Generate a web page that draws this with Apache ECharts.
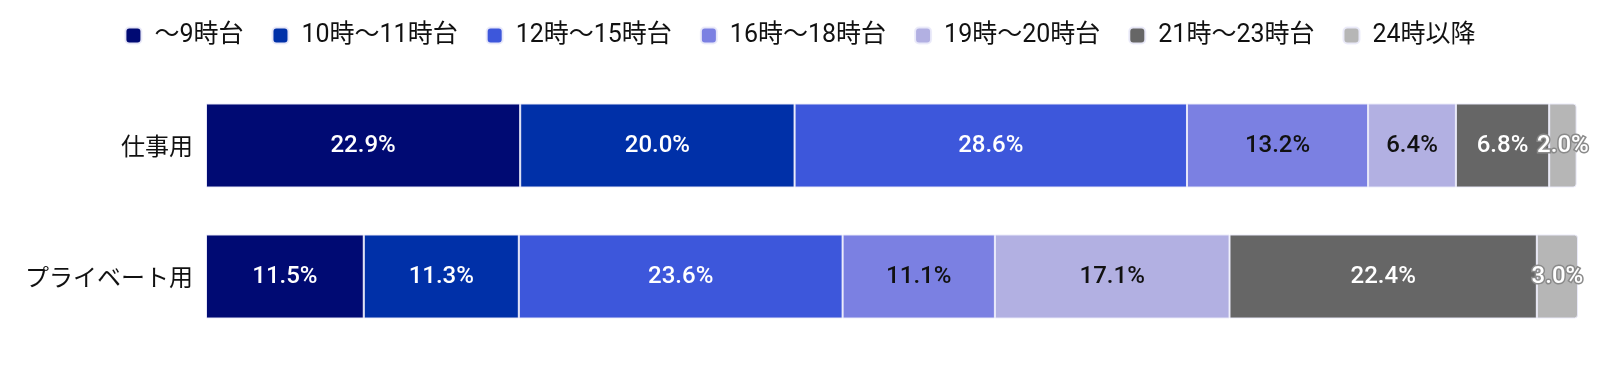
<!DOCTYPE html>
<html><head><meta charset="utf-8">
<script src="https://cdn.jsdelivr.net/npm/echarts@6/dist/echarts.min.js"></script>
<style>html,body{margin:0;padding:0;background:#fff}#c{width:1600px;height:383px}</style>
</head><body><div id="c"></div>
<script>
const categories = ['仕事用', 'プライベート用'];
const seriesNames = ['～9時台', '10時～11時台', '12時～15時台', '16時～18時台', '19時～20時台', '21時～23時台', '24時以降'];
const work = [22.9, 20.0, 28.6, 13.2, 6.4, 6.8, 2.0];
const priv = [11.5, 11.3, 23.6, 11.1, 17.1, 22.4, 3.0];
const colors = ['#000a73', '#0030a8', '#3d57db', '#7b80e2', '#b2b0e2', '#666666', '#b6b6b6'];
const labelColors = ['#fff', '#fff', '#fff', '#111', '#111', '#fff', '#fff'];

const series = seriesNames.map((name, i) => ({
  name: name,
  type: 'bar',
  stack: 'total',
  barWidth: 84,
  data: [work[i], priv[i]],
  itemStyle: {
    color: colors[i],
    borderColor: 'rgba(235,235,250,0.95)',
    borderWidth: 1,
    borderRadius: i === seriesNames.length - 1 ? [0, 3, 3, 0] : 0
  },
  label: {
    show: true,
    position: 'inside',
    formatter: p => p.value.toFixed(1) + '%',
    color: labelColors[i],
    fontFamily: 'Roboto',
    fontWeight: 500,
    fontSize: 24,
    textBorderColor: i === seriesNames.length - 1 ? '#8a8a8a' : 'transparent',
    textBorderWidth: i === seriesNames.length - 1 ? 3 : 0
  },
  emphasis: { disabled: true }
}));

const chart = echarts.init(document.getElementById('c'));
chart.setOption({
  animation: false,
  legend: {
    top: 18,
    left: 'center',
    itemWidth: 16,
    itemHeight: 16,
    itemGap: 28,
    icon: 'roundRect',
    textStyle: { fontSize: 25, color: '#111', fontFamily: 'Roboto, "Noto Sans CJK JP"', padding: [0, 0, 0, 8] },
    data: seriesNames
  },
  grid: { left: 206, right: 22, top: 80, bottom: 41 },
  xAxis: { type: 'value', min: 0, max: 100, show: false },
  yAxis: {
    type: 'category',
    data: categories,
    inverse: true,
    axisLine: { show: false },
    axisTick: { show: false },
    axisLabel: { fontSize: 24, color: '#111', margin: 13, fontFamily: '"Noto Sans CJK JP"' }
  },
  series: series
});
</script></body></html>
